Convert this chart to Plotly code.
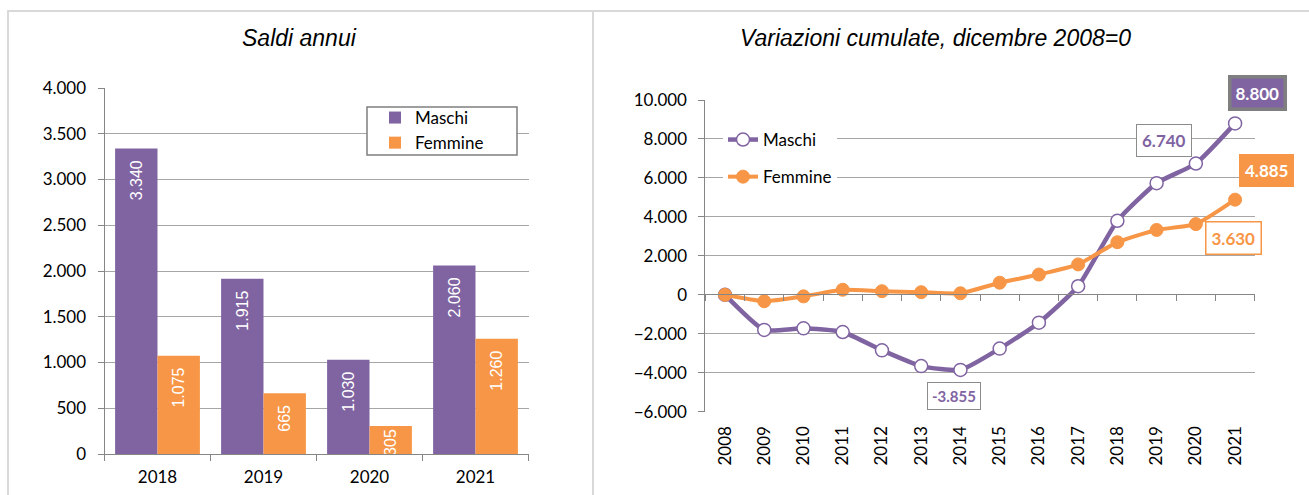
import plotly.graph_objects as go

# ---- data ----
bar_years = ["2018", "2019", "2020", "2021"]
bar_maschi = [3340, 1915, 1030, 2060]
bar_femmine = [1075, 665, 305, 1260]

line_years = list(range(2008, 2022))
cum_maschi = [0, -1800, -1720, -1910, -2850, -3660, -3855, -2760, -1430, 440, 3800, 5730, 6740, 8800]
cum_femmine = [0, -330, -80, 260, 185, 135, 80, 620, 1040, 1560, 2700, 3330, 3630, 4885]

PURPLE = "#8064A2"
ORANGE = "#F79646"
GRID = "#a6a6a6"
AXIS = "#868686"
W, H = 1309, 495


def fmt(v):
    s = f"{abs(int(v)):,}".replace(",", ".")
    return ("-" if v < 0 else "") + s


def px(x):
    return x / W


def py(y):
    return (H - y) / H


def bar_text(v):
    # small padding from the top of the bar, except where the bar is too short
    return fmt(v) + ("\u00a0\u00a0" if v >= 500 else "")


fig = go.Figure()

# ---- left: bars ----
for name, vals, col in (("Maschi", bar_maschi, PURPLE), ("Femmine", bar_femmine, ORANGE)):
    fig.add_trace(go.Bar(
        x=bar_years, y=vals, name=name, marker=dict(color=col, line=dict(width=0)),
        text=[bar_text(v) for v in vals], textposition="inside", insidetextanchor="end",
        textangle=-90, textfont=dict(color="white", size=16, family="Liberation Sans"),
        xaxis="x", yaxis="y", legend="legend", hoverinfo="skip"))

# ---- right: lines ----
fig.add_trace(go.Scatter(
    x=line_years, y=cum_maschi, name="Maschi", mode="lines+markers",
    line=dict(color=PURPLE, width=4.5, shape="spline", smoothing=0.5),
    marker=dict(symbol="circle", size=13, color="white", line=dict(color=PURPLE, width=1.5)),
    xaxis="x2", yaxis="y2", legend="legend2", legendgroup="m", hoverinfo="skip"))
fig.add_trace(go.Scatter(
    x=line_years, y=cum_femmine, name="Femmine", mode="lines+markers",
    line=dict(color=ORANGE, width=4, shape="spline", smoothing=0.5),
    marker=dict(symbol="circle", size=13, color=ORANGE, line=dict(color=ORANGE, width=1)),
    xaxis="x2", yaxis="y2", legend="legend2", legendgroup="f", hoverinfo="skip"))

tickfont = dict(family="Lato", size=17, color="black")

fig.update_layout(
    width=W, height=H, margin=dict(l=0, r=0, t=0, b=0, autoexpand=False),
    paper_bgcolor="white", plot_bgcolor="white",
    separators=",.",
    barmode="group", bargap=0.2, bargroupgap=0,
    uniformtext=dict(minsize=16, mode="show"),
    xaxis=dict(domain=[px(104.5), px(528.5)], anchor="y", type="category",
               showline=True, linecolor=AXIS, linewidth=1, ticks="outside", tickson="boundaries",
               ticklen=6, tickcolor=AXIS, showgrid=False, tickfont=tickfont, ticklabelstandoff=8),
    yaxis=dict(domain=[py(454), py(88)], anchor="x", range=[0, 4000], dtick=500, tickformat=",d",
               showgrid=True, gridcolor=GRID, gridwidth=1, showline=True, linecolor=AXIS,
               ticks="outside", ticklen=6, tickcolor=AXIS, zeroline=False, tickfont=tickfont,
               ticklabelstandoff=8),
    xaxis2=dict(domain=[px(705.4), px(1254.7)], anchor="free", position=py(294.3), type="linear",
                range=[line_years[0] - 0.5, line_years[-1] + 0.5],
                tickvals=line_years, ticktext=[str(y) for y in line_years],
                showline=True, linecolor=AXIS, linewidth=1, ticks="", showgrid=False,
                zeroline=False, tickangle=-90, tickfont=tickfont, ticklabelstandoff=124,
                minor=dict(tick0=line_years[0] - 0.5, dtick=1, ticks="outside", ticklen=6,
                           tickcolor=AXIS, showgrid=False)),
    yaxis2=dict(domain=[py(411.7), py(100)], anchor="x2", range=[-6000, 10000], dtick=2000,
                tickformat=",d", showgrid=True, gridcolor=GRID, gridwidth=1, showline=True,
                linecolor=AXIS, ticks="outside", ticklen=6, tickcolor=AXIS, zeroline=False,
                tickfont=tickfont, ticklabelstandoff=8),
    legend=dict(x=px(375), y=py(100), xanchor="left", yanchor="top", bgcolor="rgba(0,0,0,0)",
                borderwidth=0, font=dict(family="Lato", size=17, color="black"),
                traceorder="normal"),
    legend2=dict(x=px(723), y=py(122), xanchor="left", yanchor="top", bgcolor="white",
                 borderwidth=0, font=dict(family="Lato", size=17, color="black"),
                 tracegroupgap=12, traceorder="grouped"),
    showlegend=True,
)

# panel borders and left legend frame
BORDER = "#d9d9d9"
fig.add_shape(type="line", xref="paper", yref="paper", x0=px(7), x1=1, y0=py(11), y1=py(11),
              line=dict(color=BORDER, width=2))
fig.add_shape(type="line", xref="paper", yref="paper", x0=px(8), x1=px(8), y0=0, y1=py(11),
              line=dict(color=BORDER, width=2))
fig.add_shape(type="line", xref="paper", yref="paper", x0=px(593), x1=px(593), y0=0, y1=py(11),
              line=dict(color=BORDER, width=2))
fig.add_shape(type="rect", xref="paper", yref="paper", x0=px(367), x1=px(517), y0=py(155), y1=py(107),
              line=dict(color="#7f7f7f", width=1.5), fillcolor="white", layer="above")

# titles
title_font = dict(family="Liberation Sans", size=23, color="black", style="italic")
fig.add_annotation(text="Saldi annui", xref="paper", yref="paper", x=px(299), y=py(38),
                   showarrow=False, font=title_font, xanchor="center", yanchor="middle")
fig.add_annotation(text="Variazioni cumulate, dicembre 2008=0", xref="paper", yref="paper",
                   x=px(935), y=py(38), showarrow=False, font=title_font,
                   xanchor="center", yanchor="middle")

# data labels on the line chart
imin = min(range(len(cum_maschi)), key=lambda i: cum_maschi[i])
lab = [
    (line_years[-1], cum_maschi[-1], PURPLE, "#7f7f7f", 3.5, "white", 17, 22, 30, 4),
    (line_years[-2], cum_maschi[-2], "white", "#8c8c8c", 1, PURPLE, 17, -32, 23, 5),
    (line_years[-1], cum_femmine[-1], ORANGE, ORANGE, 0, "white", 17, 31, 29, 6),
    (line_years[-2], cum_femmine[-2], "white", ORANGE, 1.5, ORANGE, 17, 38, -14, 5),
    (line_years[imin], cum_maschi[imin], "white", "#8c8c8c", 1, PURPLE, 15, -6, -26, 4),
]
for xv, yv, bg, bc, bw, fc, fs, xs, ys, pad in lab:
    fig.add_annotation(x=xv, y=yv, xref="x2", yref="y2", text="<b>" + fmt(yv) + "</b>",
                       showarrow=False, bgcolor=bg, bordercolor=bc, borderwidth=bw, borderpad=pad,
                       font=dict(family="Lato", size=fs, color=fc), xshift=xs, yshift=ys)

fig.write_html("out.html", config={"displayModeBar": False},
               post_script="document.body.style.margin='0';")
